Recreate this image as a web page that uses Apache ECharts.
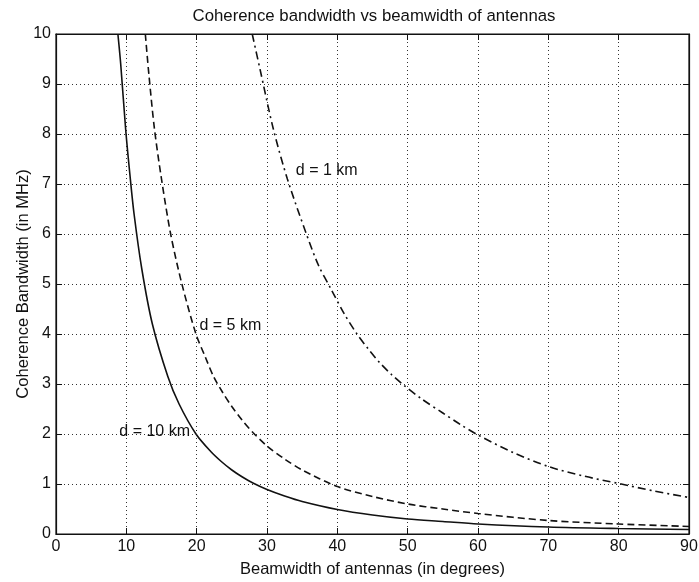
<!DOCTYPE html>
<html>
<head>
<meta charset="utf-8">
<script src="https://cdn.jsdelivr.net/npm/echarts@6/dist/echarts.min.js"></script>
<style>
  html, body { margin: 0; padding: 0; background: #fff; }
  #chart { width: 699px; height: 582px; }
</style>
</head>
<body>
<div id="chart"></div>
<script>
// Coherence bandwidth (MHz) against antenna beamwidth (degrees), three distances
const xTicks = [0, 10, 20, 30, 40, 50, 60, 70, 80, 90];
const yTicks = [0, 1, 2, 3, 4, 5, 6, 7, 8, 9, 10];

const d10km = [
  [8.8, 10], [9.2, 9.4], [9.9, 8.1], [10.5, 7.2], [11.1, 6.4], [12.2, 5.3],
  [13.7, 4.2], [15.9, 3.15], [17.5, 2.6], [19.9, 2.0], [22, 1.65], [23.5, 1.45],
  [25, 1.28], [26.5, 1.14], [28, 1.02], [30, 0.89], [32.5, 0.76], [35, 0.65],
  [40, 0.49], [45, 0.38], [50, 0.3], [55, 0.25], [60, 0.2], [70, 0.14],
  [80, 0.11], [90, 0.09]
];
const d5km = [
  [12.7, 10], [13.2, 9.2], [14.0, 8.1], [15, 7.1], [16.3, 6.0], [17.9, 5.0],
  [19.9, 4.0], [21.2, 3.55], [22.4, 3.15], [23.7, 2.83], [25, 2.55], [26.5, 2.27],
  [28, 2.03], [30, 1.76], [32.5, 1.5], [35, 1.28], [40, 0.95], [45, 0.75],
  [50, 0.6], [55, 0.5], [60, 0.41], [70, 0.27], [80, 0.2], [90, 0.15]
];
const d1km = [
  [27.9, 10], [29, 9.3], [30.9, 8.1], [32.9, 7.1], [35.6, 6.0], [37.3, 5.38],
  [39.1, 4.9], [41, 4.4], [42.8, 4.0], [44.4, 3.7], [46, 3.43], [47.7, 3.19],
  [49.5, 2.97], [52, 2.7], [55, 2.42], [57.5, 2.19], [60, 1.98], [65, 1.63],
  [70, 1.35], [75, 1.16], [80, 1.01], [85, 0.86], [90, 0.73]
];
const curveNames = ['d = 10 km', 'd = 5 km', 'd = 1 km'];

const FONT = 'Liberation Sans, Arial, Helvetica, sans-serif';
const ink = '#111';

const chart = echarts.init(document.getElementById('chart'), null, { renderer: 'canvas' });

function curve(name, data, type, labelAt) {
  return {
    name: name,
    type: 'line',
    data: data,
    smooth: 0.3,
    showSymbol: false,
    symbol: 'none',
    clip: true,
    lineStyle: { color: ink, width: 1.6, type: type },
    markPoint: {
      symbol: 'circle',
      symbolSize: 0,
      data: [{ coord: labelAt, value: name }],
      label: {
        show: true,
        position: 'right',
        distance: 0,
        formatter: name,
        color: ink,
        fontFamily: FONT,
        fontSize: 16
      }
    },
    z: 3
  };
}

const hiddenAxisLabel = { show: false };
const innerTick = { show: true, inside: true, length: 6, lineStyle: { color: ink, width: 1 } };

chart.setOption({
  animation: false,
  backgroundColor: '#fff',
  title: {
    text: 'Coherence bandwidth vs beamwidth of antennas',
    left: 369,
    top: 3,
    textAlign: 'center',
    textStyle: { color: ink, fontFamily: FONT, fontSize: 16.8, fontWeight: 'normal' }
  },
  grid: {
    left: 56, right: 10, top: 34, bottom: 48,
    containLabel: false,
    outerBoundsMode: 'none',
    show: true, borderColor: ink, borderWidth: 1.2, backgroundColor: '#fff'
  },
  xAxis: [{
    type: 'value', min: xTicks[0], max: xTicks[xTicks.length - 1], interval: 10,
    name: 'Beamwidth of antennas (in degrees)',
    nameLocation: 'middle', nameGap: 27,
    nameTextStyle: { color: ink, fontFamily: FONT, fontSize: 16.5 },
    axisLine: { show: true, onZero: false, lineStyle: { color: ink, width: 1.2 } },
    axisTick: innerTick,
    axisLabel: { color: ink, fontFamily: FONT, fontSize: 16, margin: 5 },
    splitLine: { show: true, lineStyle: { color: '#333', width: 1, type: [1, 3] } }
  }, {
    type: 'value', position: 'top', min: 0, max: 90, interval: 10,
    axisLine: { show: true, onZero: false, lineStyle: { color: ink, width: 1.2 } },
    axisTick: innerTick,
    axisLabel: hiddenAxisLabel,
    splitLine: { show: false }
  }],
  yAxis: [{
    type: 'value', position: 'left', min: yTicks[0], max: yTicks[yTicks.length - 1], interval: 1,
    name: 'Coherence Bandwidth (in MHz)',
    nameLocation: 'middle', nameGap: 24, nameRotate: 90, nameMoveOverlap: false,
    nameTextStyle: { color: ink, fontFamily: FONT, fontSize: 16.5 },
    axisLine: { show: true, onZero: false, lineStyle: { color: ink, width: 1.2 } },
    axisTick: innerTick,
    axisLabel: { color: ink, fontFamily: FONT, fontSize: 16, margin: 5 },
    splitLine: { show: true, lineStyle: { color: '#333', width: 1, type: [1, 3] } }
  }, {
    type: 'value', position: 'right', min: 0, max: 10, interval: 1,
    axisLine: { show: true, onZero: false, lineStyle: { color: ink, width: 1.2 } },
    axisTick: innerTick,
    axisLabel: hiddenAxisLabel,
    splitLine: { show: false }
  }],
  series: [
    curve(curveNames[0], d10km, 'solid', [9.0, 2.05]),
    curve(curveNames[1], d5km, [7, 4], [20.4, 4.17]),
    curve(curveNames[2], d1km, [8, 4, 2, 4], [34.1, 7.27])
  ]
});
</script>
</body>
</html>
